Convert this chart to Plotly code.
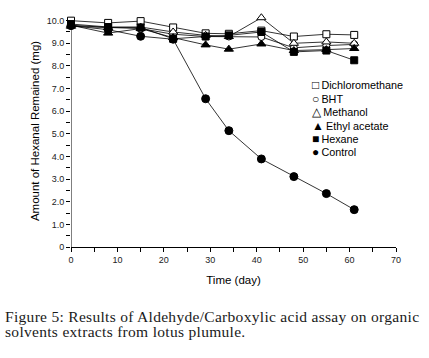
import plotly.graph_objects as go

days = [0, 8, 15, 22, 29, 34, 41, 48, 55, 61]
dichloromethane = [10.0, 9.9, 9.98, 9.7, 9.44, 9.42, 9.56, 9.3, 9.4, 9.37]
bht = [9.8, 9.7, 9.65, 9.4, 9.3, 9.3, 9.28, 8.8, 8.9, 8.95]
methanol = [9.75, 9.7, 9.72, 9.5, 9.35, 9.3, 10.13, 9.0, 9.06, 9.0]
ethyl_acetate = [9.8, 9.45, 9.65, 9.25, 8.93, 8.74, 8.97, 8.68, 8.72, 8.77]
hexane = [9.85, 9.72, 9.7, 9.2, 9.3, 9.35, 9.5, 8.62, 8.68, 8.25]
control = [9.78, 9.6, 9.31, 9.18, 6.55, 5.14, 3.89, 3.11, 2.36, 1.65]

series_names = ["Dichloromethane", "BHT", "Methanol", "Ethyl acetate", "Hexane", "Control"]
legend_glyphs = ["□", "○", "△", "▲", "■", "●"]

y_tickvals = [0, 1, 2, 3, 4, 5, 6, 7, 8, 9, 10]
y_ticktext = ["0", "1.0", "2.0", "3.0", "4.0", "5.0", "6.0", "7.0", "8.0", "9.0", "10.0"]
y_axis_top = 10.0
y_range = [0, 10.25]
x_tickvals = [0, 10, 20, 30, 40, 50, 60, 70]

caption_lines = [
    "Figure 5: Results of Aldehyde/Carboxylic acid assay on organic",
    "solvents extracts from lotus plumule.",
]

styles = [
    dict(symbol="square", color="white", size=7),
    dict(symbol="circle", color="white", size=7),
    dict(symbol="triangle-up", color="white", size=8),
    dict(symbol="triangle-up", color="black", size=8),
    dict(symbol="square", color="black", size=7),
    dict(symbol="circle", color="black", size=8),
]

fig = go.Figure()
for name, ys, st in zip(series_names,
                        [dichloromethane, bht, methanol, ethyl_acetate, hexane, control],
                        styles):
    fig.add_trace(go.Scatter(
        x=days, y=ys, name=name, mode="lines+markers",
        line=dict(color="black", width=0.8),
        marker=dict(symbol=st["symbol"], size=st["size"], color=st["color"],
                    line=dict(color="black", width=1)),
        cliponaxis=False, showlegend=False,
    ))

W, H = 429, 358
y0_px, y10_px = 247.3, 20.3
unit = (y0_px - y10_px) / 10.0
top_px = y0_px - unit * y_range[1]
L, R = 71, 33
T = top_px
B = H - y0_px
pw, ph = W - L - R, H - T - B

def px(xp):
    return (xp - L) / pw

def py(yp):
    return (H - B - yp) / ph

annotations = []
leg_y = [85, 98.5, 112, 125.5, 139, 152.5]
for g, n, yy in zip(legend_glyphs, series_names, leg_y):
    annotations.append(dict(
        x=px(310), y=py(yy), xref="paper", yref="paper", xanchor="left", yanchor="middle",
        text='<span style="font-size:12px">' + g + "</span>\u2009" + n, showarrow=False,
        font=dict(family="Liberation Sans, Arial", size=10.8, color="black"),
    ))

cap_y = [317.5, 332]
for line, yy in zip(caption_lines, cap_y):
    annotations.append(dict(
        x=px(3), y=py(yy), xref="paper", yref="paper", xanchor="left", yanchor="middle",
        text='<span style="letter-spacing:0.3px">' + line + "</span>", showarrow=False,
        font=dict(family="Liberation Serif, Times New Roman, serif", size=15.5, color="#1a1a1a"),
    ))

axis_font = dict(family="Liberation Sans, Arial", size=9, color="#222")
title_font = dict(family="Liberation Sans, Arial", size=11.5, color="black")

fig.update_layout(
    width=W, height=H,
    margin=dict(l=L, r=R, t=T, b=B),
    paper_bgcolor="white", plot_bgcolor="white",
    annotations=annotations,
    shapes=[dict(type="line", xref="x", yref="y", x0=0, x1=0, y0=0, y1=y_axis_top,
                 line=dict(color="black", width=1), layer="below")],
    xaxis=dict(
        range=[0, 70], tickvals=x_tickvals, showgrid=False, zeroline=False,
        showline=True, linecolor="black", linewidth=1,
        ticks="outside", ticklen=4, tickwidth=1, tickcolor="black",
        minor=dict(dtick=5, ticks="outside", ticklen=4, tickwidth=1, tickcolor="black", showgrid=False),
        tickfont=axis_font,
        title=dict(text="Time (day)", font=title_font, standoff=12),
    ),
    yaxis=dict(
        range=y_range, tickvals=y_tickvals, ticktext=y_ticktext, showgrid=False, zeroline=False,
        showline=False,
        ticks="outside", ticklen=4, tickwidth=1, tickcolor="black",
        minor=dict(tickvals=[0.5 + i for i in range(10)], ticks="outside", ticklen=4,
                   tickwidth=1, tickcolor="black", showgrid=False),
        tickfont=axis_font,
        title=dict(text="Amount of Hexanal Remained (mg)", font=title_font, standoff=4),
    ),
)

fig.write_html("out.html", config={"displayModeBar": False},
               post_script="document.body.style.margin='0';")
